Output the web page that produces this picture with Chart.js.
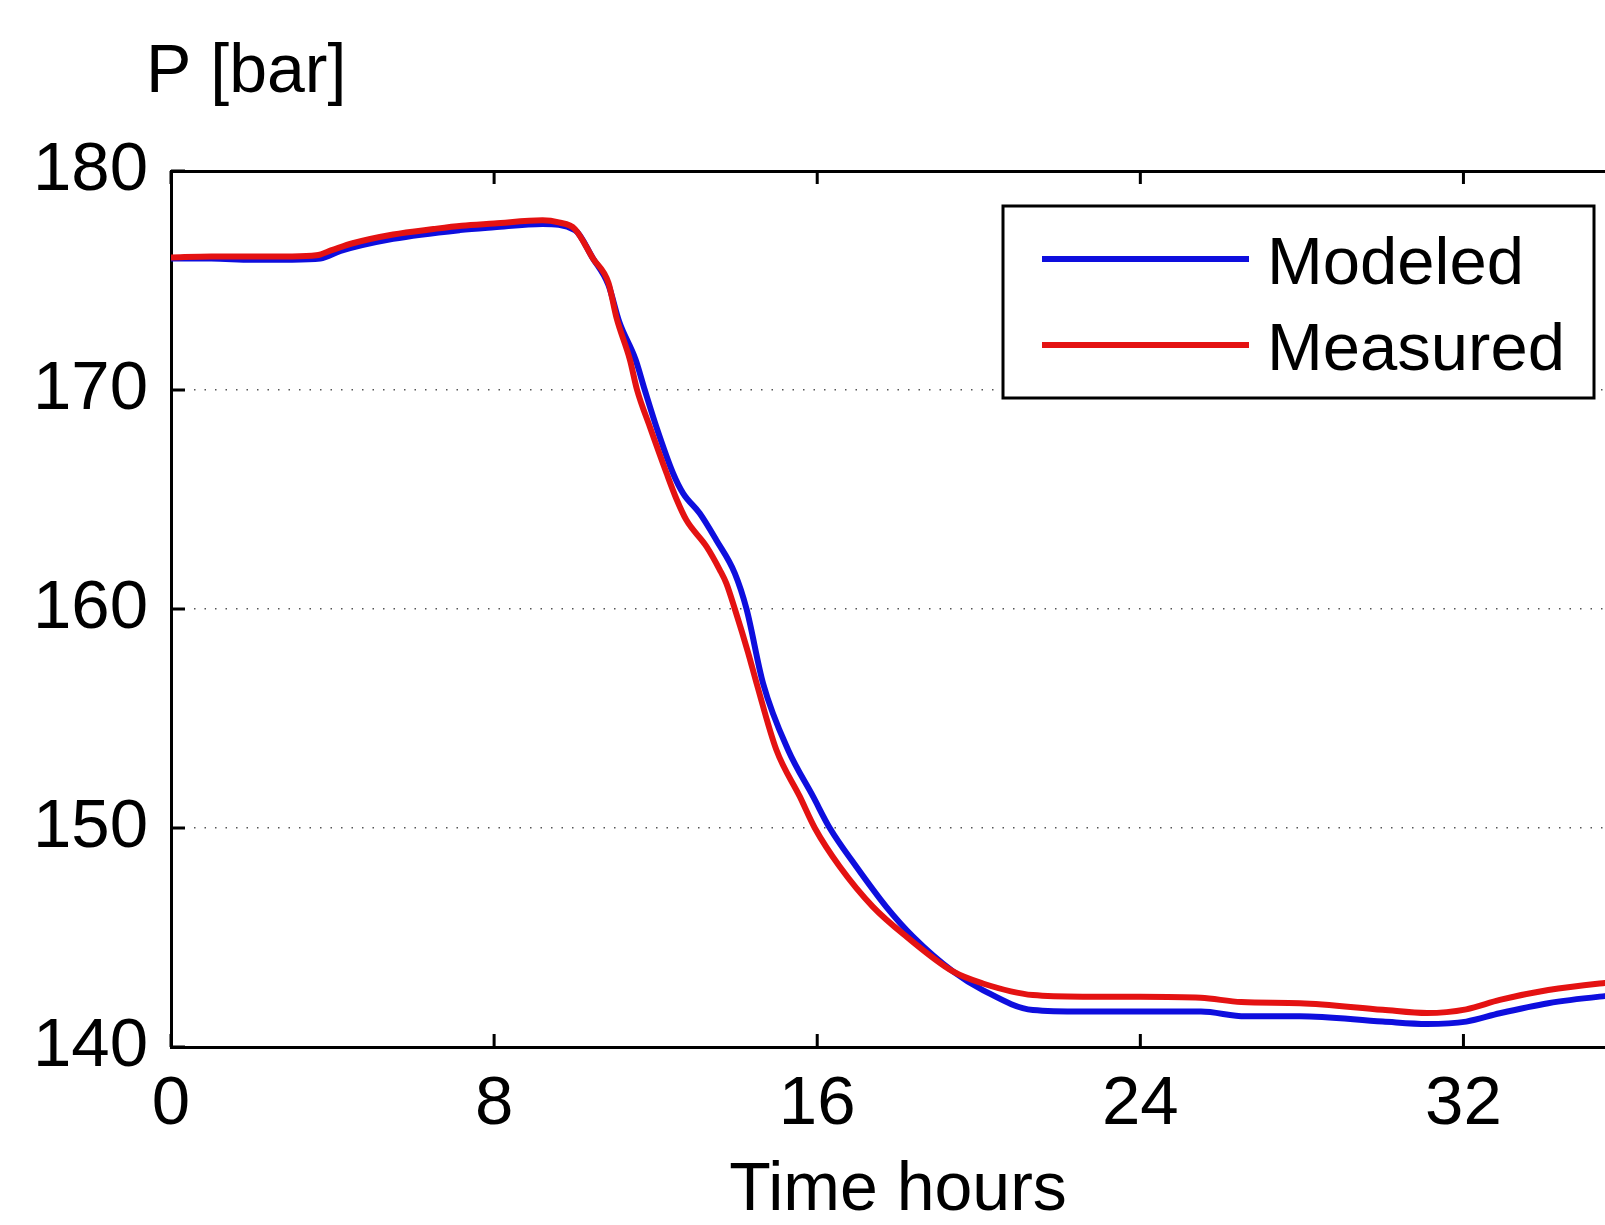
<!DOCTYPE html>
<html>
<head>
<meta charset="utf-8">
<title>P [bar]</title>
<script src="https://cdn.jsdelivr.net/npm/chart.js@4.4.1/dist/chart.umd.min.js"></script>
<style>
  html, body { margin: 0; padding: 0; background: #fff; overflow: hidden; }
  #pressureChart { position: absolute; left: 0; top: 0; }
</style>
</head>
<body>
<canvas id="pressureChart" width="1660" height="1225"></canvas>
<script>
const xTicks = [0, 8, 16, 24, 32];
const yTicks = [140, 150, 160, 170, 180];

// modeled pressure [bar] over time [h]
const modeledTime = [0, 1, 2, 3, 3.7, 4.2, 5.5, 7.15, 8, 9.2, 10.0, 10.45, 10.83, 11.1, 11.5, 11.73,
  12.02, 12.43, 12.68, 13.09, 13.5, 13.96, 14.25, 14.66, 15.28, 15.9, 16.31, 16.97, 17.71, 18.37,
  19.36, 20.1, 21.34, 22.58, 25.5, 26.6, 27.95, 30.0, 31.1, 32.07, 32.9, 34.1, 35.37, 36];
const modeledP = [176.0, 176.0, 175.95, 175.95, 176.0, 176.35, 176.9, 177.3, 177.43, 177.58, 177.3, 176.0,
  174.8, 173.1, 171.4, 170.0, 168.3, 166.2, 165.28, 164.37, 163.15, 161.63, 160.0, 156.6, 153.56, 151.43,
  150.0, 148.23, 146.4, 145.04, 143.45, 142.6, 141.69, 141.62, 141.62, 141.4, 141.4, 141.16, 141.05,
  141.16, 141.54, 142.0, 142.3, 142.4];

// measured pressure [bar] over time [h]
const measuredTime = [0, 1, 2, 3, 3.6, 4.0, 4.5, 5.5, 6.5, 7.2, 8, 9.2, 9.6, 10.0, 10.45, 10.83, 11.03,
  11.36, 11.54, 11.86, 12.27, 12.52, 12.76, 13.26, 13.59, 13.75, 13.96, 14.29, 14.5, 14.99, 15.57, 15.94,
  16.56, 17.38, 18.21, 19.36, 20.1, 21.34, 22.58, 24, 25.5, 26.5, 27.95, 30.0, 31.1, 32.07, 32.9, 34.1,
  35.37, 36];
const measuredP = [176.05, 176.1, 176.1, 176.1, 176.15, 176.4, 176.7, 177.1, 177.35, 177.5, 177.6, 177.75,
  177.65, 177.35, 176.0, 174.9, 173.3, 171.4, 170.0, 168.3, 166.2, 165.0, 164.06, 162.85, 161.78, 161.17,
  160.0, 158.0, 156.6, 153.56, 151.43, 150.0, 148.23, 146.4, 145.04, 143.45, 142.9, 142.37, 142.3, 142.3,
  142.25, 142.05, 142.0, 141.7, 141.55, 141.72, 142.15, 142.6, 142.9, 143.0];

const FONT = '"Liberation Sans", Arial, Helvetica, sans-serif';
const AXIS_WIDTH = 3;

function toPoints(xs, ys) {
  return xs.map((x, i) => ({ x: x, y: ys[i] }));
}

// ticks point inwards, on all four sides of the box
const tickMarks = {
  id: "tickMarks",
  afterDatasetsDraw(chart) {
    const { ctx, chartArea: a, scales } = chart;
    ctx.save();
    ctx.strokeStyle = "#000";
    ctx.lineWidth = AXIS_WIDTH;
    ctx.beginPath();
    xTicks.forEach((v) => {
      const px = scales.x.getPixelForValue(v);
      ctx.moveTo(px, a.bottom);
      ctx.lineTo(px, a.bottom - 13);
      ctx.moveTo(px, a.top);
      ctx.lineTo(px, a.top + 13);
    });
    yTicks.forEach((v) => {
      const py = scales.y.getPixelForValue(v);
      ctx.moveTo(a.left, py);
      ctx.lineTo(a.left + 14, py);
      ctx.moveTo(a.right, py);
      ctx.lineTo(a.right - 14, py);
    });
    ctx.stroke();
    ctx.restore();
  },
};

// boxed legend in the upper right corner + unit label above the y axis
const boxLegend = {
  id: "boxLegend",
  afterDraw(chart) {
    const { ctx, chartArea: a } = chart;
    const left = a.right - 622;
    const top = a.top + 35;
    const w = 591;
    const h = 192;
    ctx.save();
    ctx.fillStyle = "#fff";
    ctx.fillRect(left, top, w, h);
    ctx.strokeStyle = "#000";
    ctx.lineWidth = AXIS_WIDTH;
    ctx.strokeRect(left, top, w, h);
    ctx.font = "67px " + FONT;
    ctx.textBaseline = "alphabetic";
    ctx.textAlign = "left";
    chart.data.datasets.forEach((ds, i) => {
      const cy = top + 53 + i * 86;
      ctx.strokeStyle = ds.borderColor;
      ctx.lineWidth = 6;
      ctx.beginPath();
      ctx.moveTo(left + 39, cy);
      ctx.lineTo(left + 246, cy);
      ctx.stroke();
      ctx.fillStyle = "#000";
      ctx.fillText(ds.label, left + 264, cy + 25);
    });

    ctx.font = "68px " + FONT;
    ctx.fillText("P [bar]", a.left - 25, a.top - 79);
    ctx.restore();
  },
};

const ctx = document.getElementById("pressureChart").getContext("2d");
const pressureChart = new Chart(ctx, {
  type: "line",
  data: {
    datasets: [
      {
        label: "Modeled",
        data: toPoints(modeledTime, modeledP),
        borderColor: "rgb(14, 14, 222)",
        borderWidth: 6,
        pointRadius: 0,
        cubicInterpolationMode: "monotone",
        order: 2,
      },
      {
        label: "Measured",
        data: toPoints(measuredTime, measuredP),
        borderColor: "rgb(228, 18, 18)",
        borderWidth: 6,
        pointRadius: 0,
        cubicInterpolationMode: "monotone",
        order: 1,
      },
    ],
  },
  options: {
    responsive: false,
    animation: false,
    devicePixelRatio: 1,
    events: [],
    layout: { padding: { top: 171, right: 35, left: 0, bottom: 0 } },
    plugins: {
      legend: { display: false },
      title: { display: false },
      tooltip: { enabled: false },
    },
    scales: {
      x: {
        type: "linear",
        min: 0,
        max: 36,
        afterBuildTicks: (s) => { s.ticks = xTicks.map((v) => ({ value: v })); },
        afterFit: (s) => { s.height = 178; },
        grid: { display: false, drawTicks: false },
        border: { display: true, color: "#000", width: AXIS_WIDTH },
        ticks: {
          color: "#000",
          padding: 23,
          autoSkip: false,
          maxRotation: 0,
          font: { family: FONT, size: 69, lineHeight: 1 },
        },
        title: {
          display: true,
          text: "Time hours",
          color: "#000",
          padding: { top: 0, bottom: 0 },
          font: { family: FONT, size: 68, lineHeight: 1 },
        },
      },
      y: {
        type: "linear",
        min: 140,
        max: 180,
        afterBuildTicks: (s) => { s.ticks = yTicks.map((v) => ({ value: v })); },
        afterFit: (s) => { s.width = 171; },
        grid: {
          drawTicks: false,
          lineWidth: 1.5,
          color: (c) => (c.tick && (c.tick.value === 140 || c.tick.value === 180) ? "rgba(0,0,0,0)" : "#555"),
        },
        border: { display: true, color: "#000", width: AXIS_WIDTH, dash: [1.5, 9] },
        ticks: {
          color: "#000",
          padding: 23,
          font: { family: FONT, size: 69, lineHeight: 1 },
        },
      },
      x2: {
        type: "linear",
        position: "top",
        min: 0,
        max: 36,
        afterFit: (s) => { s.height = 0; },
        grid: { display: false, drawTicks: false },
        border: { display: true, color: "#000", width: AXIS_WIDTH },
        ticks: { display: false },
      },
      y2: {
        type: "linear",
        position: "right",
        min: 140,
        max: 180,
        afterFit: (s) => { s.width = 0; },
        grid: { display: false, drawTicks: false },
        border: { display: true, color: "#000", width: AXIS_WIDTH },
        ticks: { display: false },
      },
    },
  },
  plugins: [tickMarks, boxLegend],
});
</script>
</body>
</html>
